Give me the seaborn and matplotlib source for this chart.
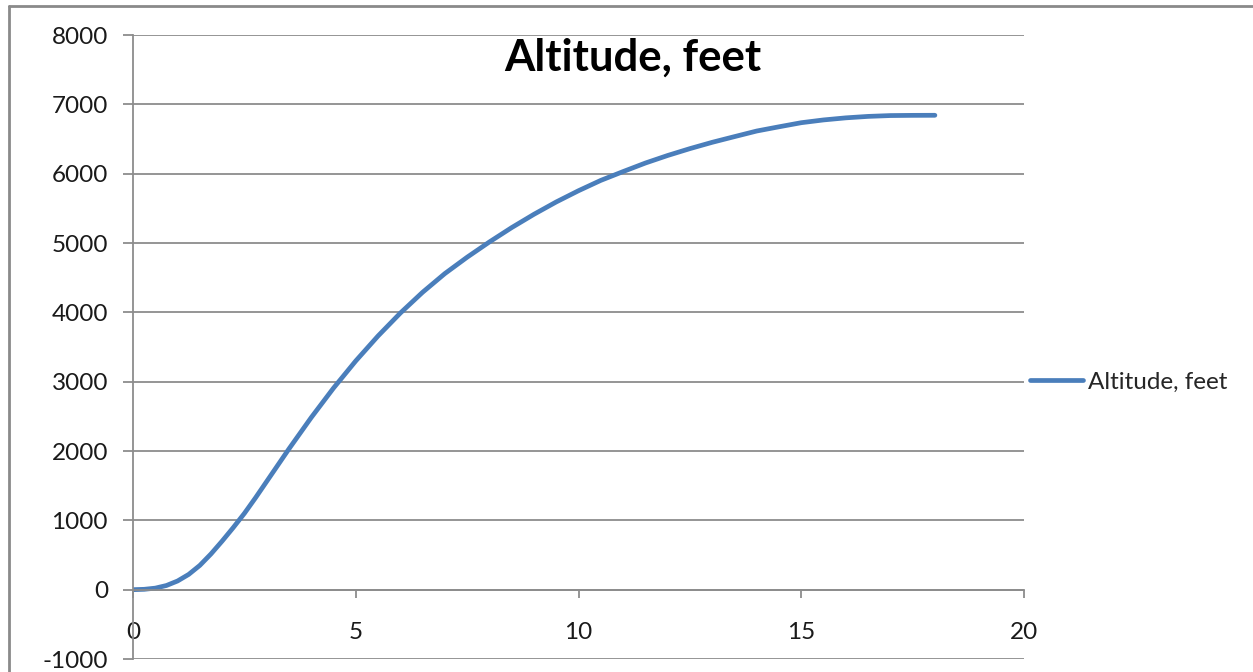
import numpy as np
import pandas as pd
import matplotlib
matplotlib.use("Agg")
import matplotlib.pyplot as plt
from matplotlib.lines import Line2D
import seaborn as sns

# ---- data ----
time_s = [0, 0.25, 0.5, 0.75, 1, 1.25, 1.5, 1.75, 2, 2.25, 2.5, 2.75, 3,
          3.5, 4, 4.5, 5, 5.5, 6, 6.5, 7, 7.5, 8, 8.5, 9, 9.5, 10, 10.5,
          11, 11.5, 12, 12.5, 13, 13.5, 14, 14.5, 15, 15.5, 16, 16.5, 17,
          17.5, 18]
altitude_ft = [0, 5, 22, 60, 125, 220, 350, 515, 700, 895, 1100, 1325, 1560,
               2030, 2482, 2907, 3299, 3659, 3989, 4289, 4559, 4795, 5015,
               5222, 5414, 5592, 5754, 5903, 6030, 6153, 6262, 6361, 6452,
               6534, 6615, 6676, 6735, 6775, 6805, 6826, 6838, 6841, 6842]
series_name = "Altitude, feet"
title_text = "Altitude, feet"
x_ticks = [0, 5, 10, 15, 20]
y_ticks = [-1000, 0, 1000, 2000, 3000, 4000, 5000, 6000, 7000, 8000]

df = pd.DataFrame({"t": time_s, "alt": altitude_ft})

sns.set_theme(style="white")
plt.rcParams["font.family"] = ["Lato", "DejaVu Sans"]

W, H = 1253, 672
fig = plt.figure(figsize=(W / 100, H / 100), dpi=100)
fig.patch.set_facecolor("white")

ax = fig.add_axes([133 / W, 1 - 659 / H, (1024 - 133) / W, (659 - 35) / H])
grid_c = "#8c8c8c"

sns.lineplot(data=df, x="t", y="alt", ax=ax, color="#4A7EBB", linewidth=3.4,
             label=series_name, solid_capstyle="round", solid_joinstyle="round")

ax.set_xlim(0, 20)
ax.set_ylim(-1000, 8000)
ax.set_xticks(x_ticks)
ax.set_yticks(y_ticks)
ax.set_xticklabels([str(v) for v in x_ticks])
ax.set_yticklabels([str(v) for v in y_ticks])
ax.set_xlabel("")
ax.set_ylabel("")

ax.grid(axis="y", color=grid_c, linewidth=1.3)
ax.grid(axis="x", visible=False)
ax.set_axisbelow(True)

for s in ["top", "right"]:
    ax.spines[s].set_visible(False)
ax.spines["left"].set_color(grid_c)
ax.spines["left"].set_linewidth(1.3)
ax.spines["bottom"].set_position(("data", 0))
ax.spines["bottom"].set_color(grid_c)
ax.spines["bottom"].set_linewidth(1.3)

ax.tick_params(axis="y", direction="out", length=7, width=1.3, color=grid_c,
               labelsize=17.5, pad=11, labelcolor="#1a1a1a", left=True)
ax.tick_params(axis="x", direction="out", length=6, width=1.3, color=grid_c,
               labelsize=17.5, pad=17, labelcolor="#1a1a1a", bottom=True)

# title
fig.text(633 / W, 1 - 58 / H, title_text, ha="center", va="center",
         fontsize=31.5, fontweight="bold", color="black")

# legend
ax.legend(loc="center left", bbox_to_anchor=(1030 / W, 1 - 382 / H),
          bbox_transform=fig.transFigure, frameon=False, fontsize=17.5,
          handlelength=2.2, handletextpad=0.2, borderpad=0, borderaxespad=0)

# outer chart border (left and top edges visible)
fig.add_artist(Line2D([9 / W, 9 / W], [0, 1 - 6 / H], transform=fig.transFigure,
                      color="#8a8a8a", linewidth=2))
fig.add_artist(Line2D([9 / W, 1], [1 - 6 / H, 1 - 6 / H], transform=fig.transFigure,
                      color="#8a8a8a", linewidth=2))

fig.savefig("out.png", dpi=100)
